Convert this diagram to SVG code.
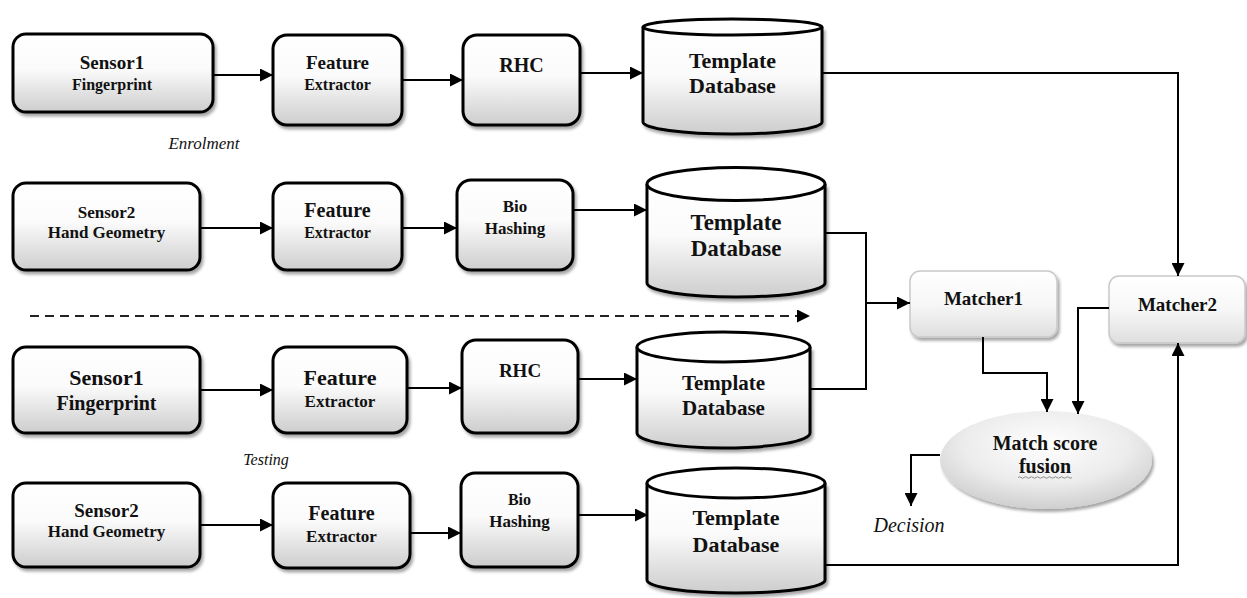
<svg xmlns="http://www.w3.org/2000/svg" width="1247" height="598" viewBox="0 0 1247 598">
  <defs>
    <linearGradient id="boxFill" x1="0" y1="0" x2="0" y2="1">
      <stop offset="0" stop-color="#ffffff"/>
      <stop offset="0.45" stop-color="#fbfbfb"/>
      <stop offset="1" stop-color="#cdcdcd"/>
    </linearGradient>
    <linearGradient id="softFill" x1="0" y1="0" x2="0" y2="1">
      <stop offset="0" stop-color="#ffffff"/>
      <stop offset="0.5" stop-color="#f7f7f7"/>
      <stop offset="1" stop-color="#dedede"/>
    </linearGradient>
    <radialGradient id="ovalFill" cx="0.5" cy="0.35" r="0.65">
      <stop offset="0" stop-color="#ffffff"/>
      <stop offset="0.6" stop-color="#ececec"/>
      <stop offset="1" stop-color="#cfcfcf"/>
    </radialGradient>
    <filter id="shadow" x="-10%" y="-10%" width="125%" height="130%">
      <feDropShadow dx="2" dy="3" stdDeviation="1.6" flood-color="#000" flood-opacity="0.35"/>
    </filter>
    <marker id="arrow" viewBox="0 0 10 10" refX="10" refY="5" markerWidth="15" markerHeight="13" markerUnits="userSpaceOnUse" orient="auto">
      <path d="M0,0 L10,5 L0,10 z" fill="#000"/>
    </marker>
    <style>
      .box { fill: url(#boxFill); stroke: #000; stroke-width: 3; filter: url(#shadow); }
      .soft { fill: url(#softFill); stroke: #c9c9c9; stroke-width: 1.5; filter: url(#shadow); }
      .cyl { fill: url(#boxFill); stroke: #000; stroke-width: 3; filter: url(#shadow); }
      .lid { fill: #ffffff; stroke: #000; stroke-width: 3; }
      .oval { fill: url(#ovalFill); stroke: none; filter: url(#shadow); }
      text { font-family: 'Liberation Serif', 'DejaVu Serif', serif; fill: #111; text-anchor: middle; }
      .t { font-weight: bold; }
      .it { font-style: italic; }
      .link { fill: none; stroke: #000; stroke-width: 2; }
      .dash { fill: none; stroke: #222; stroke-width: 2; stroke-dasharray: 9 6; }
    </style>
  </defs>

  <!-- enrolment row 1 -->
  <g id="enrol-sensor1">
    <rect class="box" x="13" y="34" width="200" height="78" rx="13"/>
    <text class="t" x="112" y="69" font-size="19">Sensor1</text>
    <text class="t" x="112" y="90" font-size="16">Fingerprint</text>
  </g>
  <g id="enrol-feature1">
    <rect class="box" x="273" y="35" width="129" height="90" rx="14"/>
    <text class="t" x="337.5" y="69" font-size="19">Feature</text>
    <text class="t" x="337.5" y="90" font-size="16">Extractor</text>
  </g>
  <g id="enrol-rhc">
    <rect class="box" x="463" y="35" width="117" height="90" rx="14"/>
    <text class="t" x="521.5" y="72" font-size="20">RHC</text>
  </g>
  <g id="enrol-db1">
    <path class="cyl" d="M643,27 V122 A89.5,12 0 0 0 822,122 V27"/>
    <ellipse class="lid" cx="732.5" cy="27" rx="89.5" ry="8"/>
    <text class="t" x="732.5" y="68" font-size="22">Template</text>
    <text class="t" x="732.5" y="93" font-size="22">Database</text>
  </g>
  <text class="it" x="204" y="149" font-size="17">Enrolment</text>

  <!-- enrolment row 2 -->
  <g id="enrol-sensor2">
    <rect class="box" x="13" y="183" width="187" height="87" rx="13"/>
    <text class="t" x="106.5" y="218" font-size="17">Sensor2</text>
    <text class="t" x="106.5" y="238" font-size="17">Hand Geometry</text>
  </g>
  <g id="enrol-feature2">
    <rect class="box" x="273" y="183" width="129" height="87" rx="14"/>
    <text class="t" x="337.5" y="217" font-size="20">Feature</text>
    <text class="t" x="337.5" y="238" font-size="16">Extractor</text>
  </g>
  <g id="enrol-biohash">
    <rect class="box" x="457" y="180" width="116" height="90" rx="14"/>
    <text class="t" x="515" y="212" font-size="17">Bio</text>
    <text class="t" x="515" y="234" font-size="17">Hashing</text>
  </g>
  <g id="enrol-db2">
    <path class="cyl" d="M647,184 V283 A89,14 0 0 0 825,283 V184"/>
    <ellipse class="lid" cx="736" cy="184" rx="89" ry="16.5"/>
    <text class="t" x="736" y="230" font-size="23">Template</text>
    <text class="t" x="736" y="256" font-size="23">Database</text>
  </g>

  <!-- testing row 1 -->
  <g id="test-sensor1">
    <rect class="box" x="13" y="347" width="187" height="86" rx="13"/>
    <text class="t" x="106.5" y="385" font-size="22">Sensor1</text>
    <text class="t" x="106.5" y="410" font-size="20">Fingerprint</text>
  </g>
  <g id="test-feature1">
    <rect class="box" x="273" y="347" width="134" height="86" rx="14"/>
    <text class="t" x="340" y="385" font-size="22">Feature</text>
    <text class="t" x="340" y="407" font-size="17">Extractor</text>
  </g>
  <g id="test-rhc">
    <rect class="box" x="462" y="340" width="116" height="93" rx="14"/>
    <text class="t" x="520" y="377" font-size="19">RHC</text>
  </g>
  <g id="test-db1">
    <path class="cyl" d="M637,347 V433 A86.5,15 0 0 0 810,433 V347"/>
    <ellipse class="lid" cx="723.5" cy="347" rx="86.5" ry="15"/>
    <text class="t" x="723.5" y="390" font-size="21">Template</text>
    <text class="t" x="723.5" y="415" font-size="21">Database</text>
  </g>
  <text class="it" x="266" y="465" font-size="16">Testing</text>

  <!-- testing row 2 -->
  <g id="test-sensor2">
    <rect class="box" x="13" y="483" width="187" height="84" rx="13"/>
    <text class="t" x="106.5" y="517" font-size="19">Sensor2</text>
    <text class="t" x="106.5" y="537" font-size="17">Hand Geometry</text>
  </g>
  <g id="test-feature2">
    <rect class="box" x="273" y="483" width="137" height="85" rx="14"/>
    <text class="t" x="341.5" y="520" font-size="20">Feature</text>
    <text class="t" x="341.5" y="542" font-size="17">Extractor</text>
  </g>
  <g id="test-biohash">
    <rect class="box" x="461" y="473" width="117" height="94" rx="14"/>
    <text class="t" x="519.5" y="505" font-size="16">Bio</text>
    <text class="t" x="519.5" y="527" font-size="17">Hashing</text>
  </g>
  <g id="test-db2">
    <path class="cyl" d="M647,483 V580 A89,13 0 0 0 825,580 V483"/>
    <ellipse class="lid" cx="736" cy="483" rx="89" ry="15"/>
    <text class="t" x="736" y="525" font-size="22">Template</text>
    <text class="t" x="736" y="552" font-size="22">Database</text>
  </g>

  <!-- matching and fusion -->
  <g id="matcher1">
    <rect class="soft" x="910" y="271" width="147" height="66" rx="10"/>
    <text class="t" x="983.5" y="305" font-size="19">Matcher1</text>
  </g>
  <g id="matcher2">
    <rect class="soft" x="1109" y="276" width="136" height="67" rx="10"/>
    <text class="t" x="1177.5" y="311" font-size="19">Matcher2</text>
  </g>
  <g id="fusion">
    <ellipse class="oval" cx="1046" cy="460" rx="106" ry="49"/>
    <text class="t" x="1045" y="450" font-size="20">Match score</text>
    <text class="t" x="1045" y="473" font-size="20">fusion</text>
    <path d="M1018,477.5 q1.5,-1.5 3,0 t3,0 t3,0 t3,0 t3,0 t3,0 t3,0 t3,0 t3,0 t3,0 t3,0 t3,0 t3,0 t3,0 t3,0 t3,0 t3,0 t3,0" fill="none" stroke="#8a8a8a" stroke-width="1"/>
  </g>
  <text class="it" x="909" y="532" font-size="20">Decision</text>

  <!-- connectors -->
  <g id="connectors">
    <line class="link" x1="213" y1="75" x2="273" y2="75" marker-end="url(#arrow)"/>
    <line class="link" x1="402" y1="80" x2="463" y2="80" marker-end="url(#arrow)"/>
    <line class="link" x1="580" y1="73" x2="643" y2="73" marker-end="url(#arrow)"/>
    <path class="link" d="M822,73 H1178 V276" marker-end="url(#arrow)"/>

    <line class="link" x1="200" y1="228" x2="273" y2="228" marker-end="url(#arrow)"/>
    <line class="link" x1="402" y1="228" x2="457" y2="228" marker-end="url(#arrow)"/>
    <line class="link" x1="573" y1="210" x2="647" y2="210" marker-end="url(#arrow)"/>
    <path class="link" d="M825,233 H866 V389 H810"/>
    <line class="link" x1="866" y1="303" x2="910" y2="303" marker-end="url(#arrow)"/>

    <line class="dash" x1="30" y1="316" x2="810" y2="316" marker-end="url(#arrow)"/>

    <line class="link" x1="200" y1="390" x2="273" y2="390" marker-end="url(#arrow)"/>
    <line class="link" x1="407" y1="388" x2="462" y2="388" marker-end="url(#arrow)"/>
    <line class="link" x1="578" y1="379" x2="637" y2="379" marker-end="url(#arrow)"/>

    <line class="link" x1="200" y1="525" x2="273" y2="525" marker-end="url(#arrow)"/>
    <line class="link" x1="410" y1="533" x2="461" y2="533" marker-end="url(#arrow)"/>
    <line class="link" x1="578" y1="515" x2="648" y2="515" marker-end="url(#arrow)"/>
    <path class="link" d="M825,565 H1178 V343" marker-end="url(#arrow)"/>

    <path class="link" d="M983,337 V373 H1047 V412" marker-end="url(#arrow)"/>
    <path class="link" d="M1109,308 H1078 V414" marker-end="url(#arrow)"/>
    <path class="link" d="M940,455 H911 V506" marker-end="url(#arrow)"/>
  </g>
</svg>
